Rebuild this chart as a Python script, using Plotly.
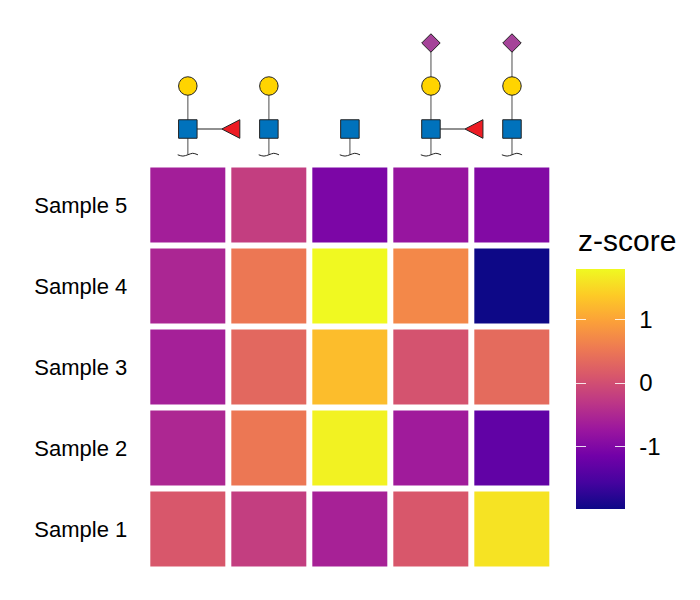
import plotly.graph_objects as go

samples = ["Sample 1", "Sample 2", "Sample 3", "Sample 4", "Sample 5"]
glycans = ["G1", "G2", "G3", "G4", "G5"]
sample1 = [0.12, -0.20, -0.58, 0.12, 1.60]
sample2 = [-0.50, 0.52, 1.74, -0.66, -1.29]
sample3 = [-0.60, 0.33, 1.25, 0.07, 0.37]
sample4 = [-0.52, 0.52, 1.80, 0.71, -1.97]
sample5 = [-0.62, -0.20, -1.03, -0.76, -0.97]
colorbar_ticks = [-1, 0, 1]
z_min, z_max = -1.97, 1.80

# Glycan residues: (column, level)
gal_cols, gal_levels = [0, 1, 3, 4], [1, 1, 1, 1]
glcnac_cols, glcnac_levels = [0, 1, 2, 3, 4], [0, 0, 0, 0, 0]
neu_cols, neu_levels = [3, 4], [2, 2]
fuc_cols = [0, 3]
stem_tops = [1, 1, 0, 2, 2]

GREY = "#7f7f7f"
DARK = "#222222"
CLEAR = [[0, "rgba(0,0,0,0)"], [1, "rgba(0,0,0,0)"]]
TICK = "rgba(255,255,255,0.85)"
W, H = 700, 600
GAP = 6
LEFT, RIGHT = 147.3, 552.5
HEAT_TOP, HEAT_BOT = 164.5, 569.5
GLY_TOP, GLY_BOT = 20.0, 164.0
LEVEL_PX = 43.0
LEVEL0_Y = 129.0
COL_PX = (RIGHT - LEFT) / len(glycans)
BAR_L, BAR_R, BAR_T, BAR_B = 576.0, 624.5, 268.5, 508.5
matrix = [sample1, sample2, sample3, sample4, sample5]
tick_text = [str(t) for t in colorbar_ticks]

def bar(x_left, thickness, **extra):
    return dict(x=x_left / W, xanchor="left", xpad=0,
                y=1 - BAR_B / H, yanchor="bottom", ypad=0,
                len=(BAR_B - BAR_T) / H, lenmode="fraction",
                thickness=thickness, thicknessmode="pixels",
                outlinewidth=0, borderwidth=0,
                tickmode="array", tickvals=colorbar_ticks, **extra)

fig = go.Figure()
fig.add_trace(go.Heatmap(
    z=matrix, x=glycans, y=samples,
    colorscale="Plasma", zmin=z_min, zmax=z_max,
    xgap=GAP, ygap=GAP, hoverongaps=False,
    colorbar=bar(BAR_L, BAR_R - BAR_L, ticktext=tick_text,
                 ticks="outside", ticklen=10, tickwidth=1, tickcolor="white",
                 tickfont=dict(size=24, color="black")),
))
# transparent overlay bars carry the white inside ticks on both edges
for x_left in (BAR_L, BAR_R - 10):
    fig.add_trace(go.Heatmap(
        z=matrix, x=glycans, y=samples,
        colorscale=CLEAR, zmin=z_min, zmax=z_max,
        xgap=GAP, ygap=GAP, hoverinfo="skip",
        colorbar=bar(x_left, 10, ticktext=["", "", ""],
                     ticks="inside", ticklen=10, tickwidth=1, tickcolor=TICK,
                     tickfont=dict(size=1, color="rgba(0,0,0,0)")),
    ))

cols = list(range(len(glycans)))
# stems
for c, top in zip(cols, stem_tops):
    fig.add_trace(go.Scatter(x=[c, c], y=[-0.6, top], mode="lines", xaxis="x2", yaxis="y2",
                             line=dict(color=GREY, width=1.4), showlegend=False, hoverinfo="skip"))
# wiggles at the reducing end
for c in cols:
    fig.add_trace(go.Scatter(x=[c - 0.125, c - 0.06, c, c + 0.06, c + 0.125],
                             y=[-0.6, -0.63, -0.6, -0.565, -0.6],
                             mode="lines", xaxis="x2", yaxis="y2",
                             line=dict(color=DARK, width=1, shape="spline"),
                             showlegend=False, hoverinfo="skip"))
# fucose links and triangles
for c in fuc_cols:
    tip = c + 34 / COL_PX
    base = c + 52 / COL_PX
    half = 9.3 / LEVEL_PX
    fig.add_trace(go.Scatter(x=[c, tip], y=[0, 0], mode="lines", xaxis="x2", yaxis="y2",
                             line=dict(color=DARK, width=1.2), showlegend=False, hoverinfo="skip"))
    fig.add_trace(go.Scatter(x=[tip, base, base, tip], y=[0, half, -half, 0],
                             mode="lines", fill="toself", fillcolor="#ED1C24",
                             xaxis="x2", yaxis="y2", line=dict(color=DARK, width=1),
                             showlegend=False, hoverinfo="skip"))

def residues(xs, ys, symbol, color, size):
    fig.add_trace(go.Scatter(x=xs, y=ys, mode="markers", xaxis="x2", yaxis="y2",
                             marker=dict(symbol=symbol, color=color, size=size,
                                         line=dict(color=DARK, width=1)),
                             showlegend=False, hoverinfo="skip"))

residues(glcnac_cols, glcnac_levels, "square", "#0072BC", 18.5)
residues(gal_cols, gal_levels, "circle", "#FFD400", 18.5)
residues(neu_cols, neu_levels, "diamond", "#A54399", 14.2)

fig.add_annotation(text="z-score", xref="paper", yref="paper", x=578 / W, y=1 - 241 / H,
                   xanchor="left", yanchor="middle", showarrow=False,
                   font=dict(size=30, color="black"), borderpad=0, borderwidth=0)

fig.update_layout(
    width=W, height=H,
    margin=dict(l=0, r=0, t=0, b=0),
    paper_bgcolor="white", plot_bgcolor="white",
    font=dict(family="Liberation Sans, Arial, sans-serif", color="black"),
    showlegend=False,
    xaxis=dict(domain=[LEFT / W, RIGHT / W], showticklabels=False, ticks="",
               showgrid=False, zeroline=False, showline=False,
               categoryorder="array", categoryarray=glycans),
    yaxis=dict(domain=[1 - HEAT_BOT / H, 1 - HEAT_TOP / H], ticks="",
               showgrid=False, zeroline=False, showline=False,
               categoryorder="array", categoryarray=samples,
               tickfont=dict(size=22, color="black"), ticklabelstandoff=19),
    xaxis2=dict(domain=[LEFT / W, RIGHT / W], range=[-0.5, 4.5], visible=False, anchor="y2"),
    yaxis2=dict(domain=[1 - GLY_BOT / H, 1 - GLY_TOP / H],
                range=[(LEVEL0_Y - GLY_BOT) / LEVEL_PX, (LEVEL0_Y - GLY_TOP) / LEVEL_PX],
                visible=False, anchor="x2"),
)

fig.write_html("out.html", config={"displayModeBar": False},
               post_script="document.body.style.margin='0';")
